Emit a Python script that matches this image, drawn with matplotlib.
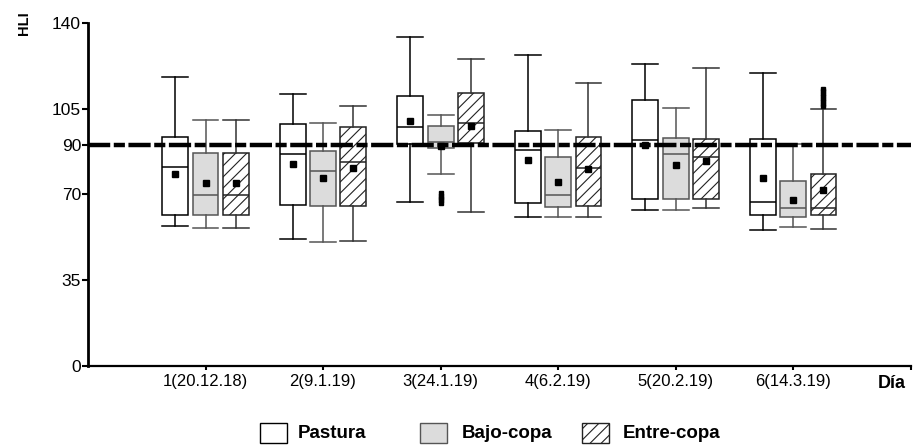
import matplotlib
matplotlib.use("Agg")
import matplotlib.pyplot as plt
from matplotlib.patches import Rectangle

plt.rcParams['font.family'] = ['Liberation Sans', 'DejaVu Sans']
plt.rcParams['hatch.linewidth'] = 0.8
plt.rcParams['hatch.color'] = '#444444'

# -------------------- DATA --------------------
days = ['1(20.12.18)', '2(9.1.19)', '3(24.1.19)', '4(6.2.19)', '5(20.2.19)', '6(14.3.19)']
groups = ['Pastura', 'Bajo-copa', 'Entre-copa']
threshold = 90

# per group: one value per day
whislo = {
    'Pastura':    [57.1, 51.9, 66.8, 60.6, 63.5, 55.6],
    'Bajo-copa':  [56.3, 50.7, 78.4, 60.9, 63.5, 56.5],
    'Entre-copa': [56.3, 51.0, 62.8, 60.9, 64.6, 55.9],
}
q1 = {
    'Pastura':    [61.4, 65.7, 90.5, 66.3, 68.0, 61.6],
    'Bajo-copa':  [61.7, 65.4, 88.8, 65.0, 68.0, 60.8],
    'Entre-copa': [61.7, 65.1, 90.8, 65.4, 68.0, 61.4],
}
med = {
    'Pastura':    [81.0, 86.3, 97.6, 88.0, 92.2, 66.8],
    'Bajo-copa':  [69.9, 79.4, 91.5, 69.9, 86.3, 64.3],
    'Entre-copa': [69.9, 83.1, 99.0, 80.6, 85.4, 64.6],
}
q3 = {
    'Pastura':    [93.4, 98.7, 110.2, 95.7, 108.6, 92.4],
    'Bajo-copa':  [86.7, 87.8, 98.0, 85.2, 93.1, 75.6],
    'Entre-copa': [86.7, 97.6, 111.2, 93.4, 92.7, 78.5],
}
whishi = {
    'Pastura':    [117.7, 111.1, 134.2, 127.0, 123.0, 119.6],
    'Bajo-copa':  [100.5, 99.2, 102.5, 96.2, 105.1, 90.5],
    'Entre-copa': [100.5, 106.2, 125.2, 115.4, 121.7, 104.8],
}
means = {
    'Pastura':    [78.4, 82.5, 100.0, 84.1, 90.3, 76.8],
    'Bajo-copa':  [74.6, 76.8, 89.7, 75.2, 82.1, 67.8],
    'Entre-copa': [74.6, 80.9, 98.0, 80.5, 83.7, 71.9],
}
outliers = {
    ('Bajo-copa', 2): [66.5, 67.5, 68.5, 69.5, 70.5],
    ('Entre-copa', 5): [106, 107, 108, 109, 110, 111, 112, 113],
}

# -------------------- STYLE --------------------
offsets = [-0.258, 0.0, 0.258]
box_w = 0.22
styles = {
    'Pastura':    dict(face='white', edge='black', line='black', hatch=None),
    'Bajo-copa':  dict(face='#dcdcdc', edge='#555555', line='#555555', hatch=None),
    'Entre-copa': dict(face='white', edge='#222222', line='#333333', hatch='///'),
}

fig = plt.figure(figsize=(9.15, 4.45), dpi=100)
ax = fig.add_axes([88 / 915, 1 - 366 / 445, (910.7 - 88) / 915, (366 - 22.7) / 445])

for gi, g in enumerate(groups):
    st = styles[g]
    stats = []
    for di in range(len(days)):
        stats.append(dict(whislo=whislo[g][di], q1=q1[g][di], med=med[g][di],
                          q3=q3[g][di], whishi=whishi[g][di], mean=means[g][di],
                          fliers=outliers.get((g, di), [])))
    pos = [d + 1 + offsets[gi] for d in range(len(days))]
    res = ax.bxp(stats, positions=pos, widths=box_w, patch_artist=True,
                 showmeans=True, capwidths=box_w,
                 boxprops=dict(facecolor=st['face'], edgecolor=st['edge'], linewidth=1.1),
                 whiskerprops=dict(color=st['line'], linewidth=1.1),
                 capprops=dict(color=st['line'], linewidth=1.1),
                 medianprops=dict(color=st['edge'], linewidth=1.1),
                 meanprops=dict(marker='s', markerfacecolor='black', markeredgecolor='black',
                                markersize=4),
                 flierprops=dict(marker='s', markerfacecolor='black', markeredgecolor='black',
                                 markersize=2.5))
    if st['hatch']:
        for b in res['boxes']:
            b.set_hatch(st['hatch'])

ax.axhline(threshold, color='black', linewidth=3.2, dashes=(5, 0.8, 2.5, 0.8), zorder=10)

ax.set_xlim(0, 7)
ax.set_ylim(0, 140)
ax.set_yticks([0, 35, 70, 90, 105, 140])
ax.set_xticks(list(range(1, len(days) + 2)))
ax.set_xticklabels(days + [''])
ax.tick_params(axis='y', labelsize=12.5, length=4, width=1.5, pad=1)
ax.tick_params(axis='x', labelsize=12, length=3, width=1.5, pad=3)
for s in ['top', 'right']:
    ax.spines[s].set_visible(False)
ax.spines['left'].set_linewidth(2)
ax.spines['bottom'].set_linewidth(1.6)

fig.text(24 / 915, 1 - 23.5 / 445, 'HLI', rotation=90, fontsize=10.5, fontweight='bold',
         ha='center', va='center')
fig.text(892 / 915, 1 - 383 / 445, 'Día', fontsize=13, fontweight='bold',
         ha='center', va='center')

# legend
leg_items = [(260, 298), (420, 462), (582, 623)]
for (px, tx), g in zip(leg_items, groups):
    st = styles[g]
    r = Rectangle((px / 915, 1 - 443 / 445), 27 / 915, 20 / 445, transform=fig.transFigure,
                  facecolor=st['face'], edgecolor=st['edge'], linewidth=1.0,
                  hatch=st['hatch'])
    fig.patches.append(r)
    fig.text(tx / 915, 1 - 433 / 445, g, fontsize=13.5, fontweight='bold',
             ha='left', va='center')

fig.savefig('out.png', dpi=100)
